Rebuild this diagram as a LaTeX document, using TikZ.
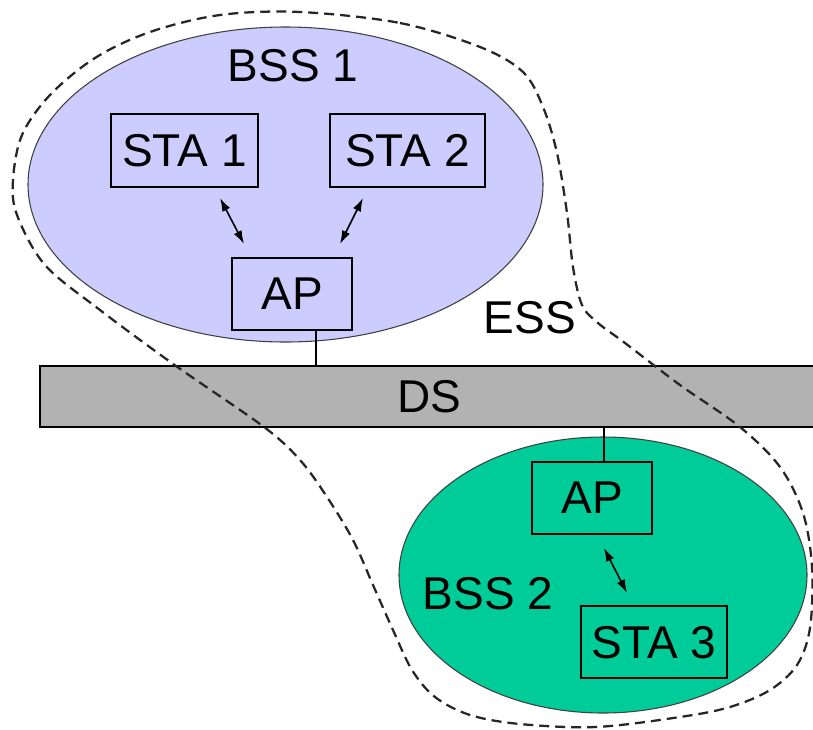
\documentclass[tikz,border=0pt]{standalone}
\usepackage{fontspec}
\setmainfont{Liberation Sans}
\usetikzlibrary{shapes.geometric,arrows.meta,calc}

\definecolor{bssone}{HTML}{CCCCFF}
\definecolor{bsstwo}{HTML}{00CC99}
\definecolor{dsgray}{HTML}{B2B2B2}

\tikzset{
  lbl/.style={font=\fontsize{34.5}{40}\selectfont, inner sep=0pt, text depth=0pt},
  cell/.style={draw=black, line width=1pt, inner sep=0pt,
               font=\fontsize{34.5}{40}\selectfont, text depth=0pt},
  bss/.style={ellipse, draw=black!75, line width=0.8pt, inner sep=0pt},
  link/.style={line width=0.8pt},
  radio/.style={{Latex[length=10pt,width=6.5pt]}-{Latex[length=10pt,width=6.5pt]}, line width=1.2pt},
  essline/.style={dash pattern=on 7.5pt off 4.5pt, line width=1.7pt, draw=black!85}
}

\begin{document}
\begin{tikzpicture}[x=0.75pt, y=-0.75pt]
  \useasboundingbox (0,0) rectangle (813,729);

  % basic service sets
  \node[bss, fill=bssone, minimum width=386.25pt, minimum height=236.25pt] (bss1) at (285.5,184.5) {};
  \node[bss, fill=bsstwo, minimum width=306pt, minimum height=207pt] (bss2) at (603,575) {};

  % distribution system bar
  \node[cell, fill=dsgray, minimum width=583.5pt, minimum height=45.75pt] (ds) at (429,396.5) {DS};

  % stations and access points
  \node[cell, minimum width=110.25pt, minimum height=54.75pt] (sta1) at (184.5,150.5) {STA 1};
  \node[cell, minimum width=116.25pt, minimum height=54.75pt] (sta2) at (407.5,150.5) {STA 2};
  \node[cell, minimum width=90pt, minimum height=54pt] (ap1) at (292,294) {AP};
  \node[cell, minimum width=90pt, minimum height=54pt] (ap2) at (592,498) {AP};
  \node[cell, minimum width=109.5pt, minimum height=54pt] (sta3) at (654,642) {STA 3};

  % labels
  \node[lbl] (bss1lbl) at (293,65) {BSS 1};
  \node[lbl] (bss2lbl) at (488,593) {BSS 2};
  \node[lbl] (esslbl) at (530,317) {ESS};

  % wired links to the distribution system
  \draw[link] ([xshift=18pt]ap1.south) -- ([xshift=18pt]ap1.south |- ds.north);
  \draw[link] ([xshift=9pt]ap2.north) -- ([xshift=9pt]ap2.north |- ds.south);

  % wireless links
  \coordinate (r1a) at (220,198);  \coordinate (r1b) at (244,244);
  \coordinate (r2a) at (363,198);  \coordinate (r2b) at (340,244);
  \coordinate (r3a) at (604,548);  \coordinate (r3b) at (627,593);
  \draw[radio] (r1a) -- (r1b);
  \draw[radio] (r2a) -- (r2b);
  \draw[radio] (r3a) -- (r3b);

  % extended service set boundary
  \draw[essline] plot[smooth cycle, tension=0.55] coordinates {
    (300,12) (400,23) (480,47) (523,72) (543,107) (557,153) (567,213)
    (573,267) (582,305) (598,323) (625,343) (680,385) (740,427) (780,467)
    (803,513) (812,567) (810,628) (797,665) (770,690) (730,707) (680,717)
    (596,727) (520,724) (470,715) (435,697) (412,670) (393,630) (373,585)
    (353,540) (327,497) (300,460) (264,427) (176,366) (100,310) (45,265)
    (17,215) (13,180) (22,135) (50,95) (95,58) (150,32) (220,15)
  };
\end{tikzpicture}
\end{document}
